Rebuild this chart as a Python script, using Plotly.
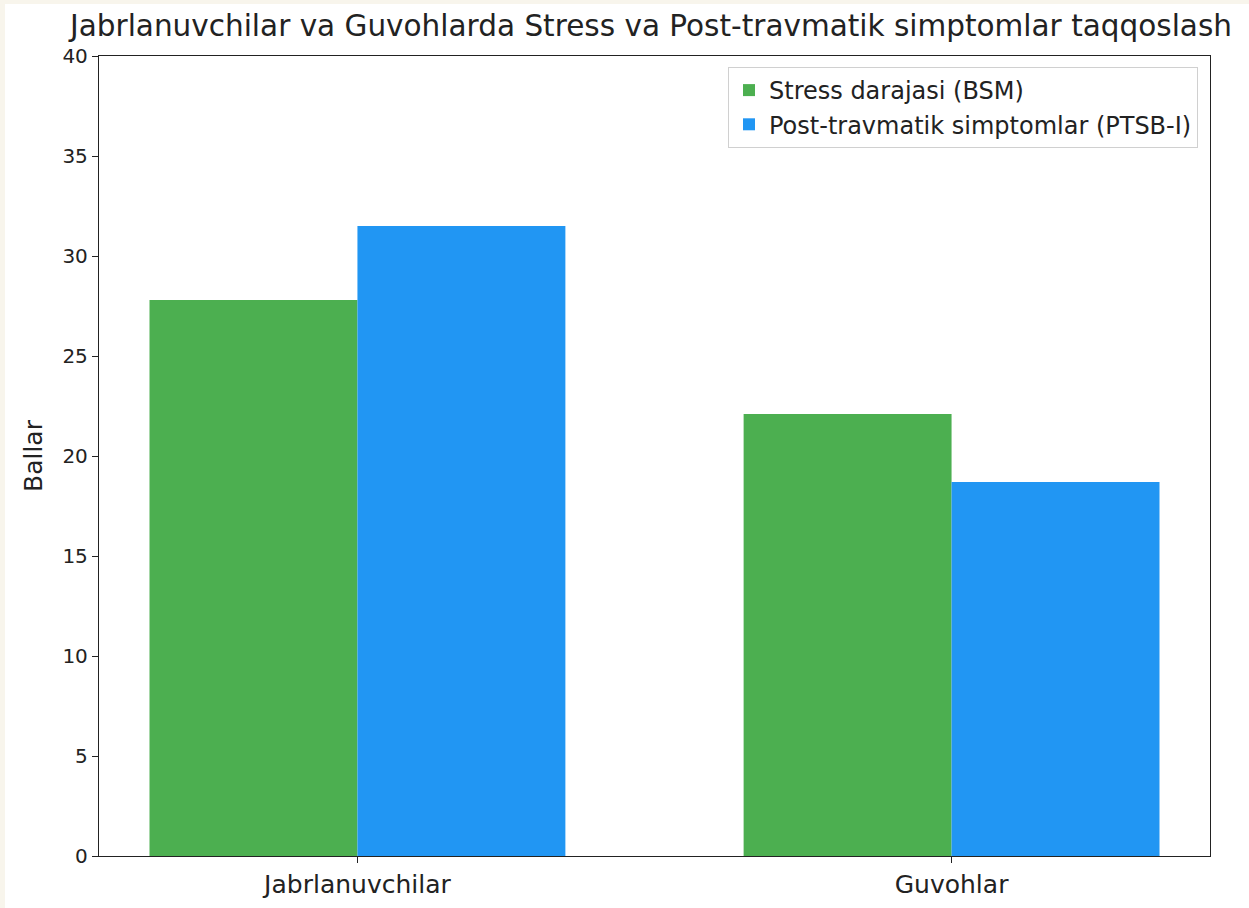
import plotly.graph_objects as go

categories = ["Jabrlanuvchilar", "Guvohlar"]
stress_bsm = [27.8, 22.1]
ptsb_i = [31.5, 18.7]
series_names = ["Stress darajasi (BSM)", "Post-travmatik simptomlar (PTSB-I)"]
y_ticks = [0, 5, 10, 15, 20, 25, 30, 35, 40]

W, H = 1249, 908
L, R, T, B = 99, 39, 56, 52
pw, ph = W - L - R, H - T - B

fig = go.Figure()
fig.add_trace(go.Bar(x=categories, y=stress_bsm, name=series_names[0],
                     marker=dict(color="#4CAF50", line=dict(width=0))))
fig.add_trace(go.Bar(x=categories, y=ptsb_i, name=series_names[1],
                     marker=dict(color="#2196F3", line=dict(width=0))))

font = "DejaVu Sans, Arial, sans-serif"
fig.update_layout(
    width=W, height=H,
    margin=dict(l=L, r=R, t=T, b=B, autoexpand=False),
    paper_bgcolor="#f8f5ec",
    plot_bgcolor="white",
    barmode="group", bargap=0.3, bargroupgap=0,
    font=dict(family=font, color="#222222"),
    title=dict(text="Jabrlanuvchilar va Guvohlarda Stress va Post-travmatik simptomlar taqqoslash",
               x=(651 - L) / pw, xref="paper", xanchor="center",
               y=1 - 26 / H, yanchor="middle",
               font=dict(size=29.5, color="#222222")),
    legend=dict(x=(1198 - L) / pw, xanchor="right", y=(856 - 67) / ph,
                yanchor="top", bgcolor="white", bordercolor="#d0d0d0", borderwidth=1,
                font=dict(size=24, color="#222222"), tracegroupgap=0),
    showlegend=True,
    shapes=[dict(type="rect", xref="paper", yref="paper",
                 x0=(5 - L) / pw, x1=(W - L) / pw + 0.01,
                 y0=(856 - H) / ph - 0.01, y1=(856 - 4) / ph,
                 fillcolor="white", line=dict(width=0), layer="below")],
)
fig.update_xaxes(range=[-0.435, 1.435], showline=True, linecolor="#222222", linewidth=1.3,
                 mirror=True, ticks="outside", ticklen=6, tickcolor="#222222",
                 tickfont=dict(size=25, color="#222222"), showgrid=False, zeroline=False)
fig.update_yaxes(range=[0, 40], tickvals=y_ticks, showline=True, linecolor="#222222", linewidth=1.3,
                 mirror=True, ticks="outside", ticklen=6, tickcolor="#222222",
                 tickfont=dict(size=20, color="#222222"), showgrid=False, zeroline=False,
                 title=dict(text="Ballar", font=dict(size=25, color="#222222"), standoff=12))

fig.write_html("out.html", config={"displayModeBar": False},
               post_script="document.body.style.margin='0';")
